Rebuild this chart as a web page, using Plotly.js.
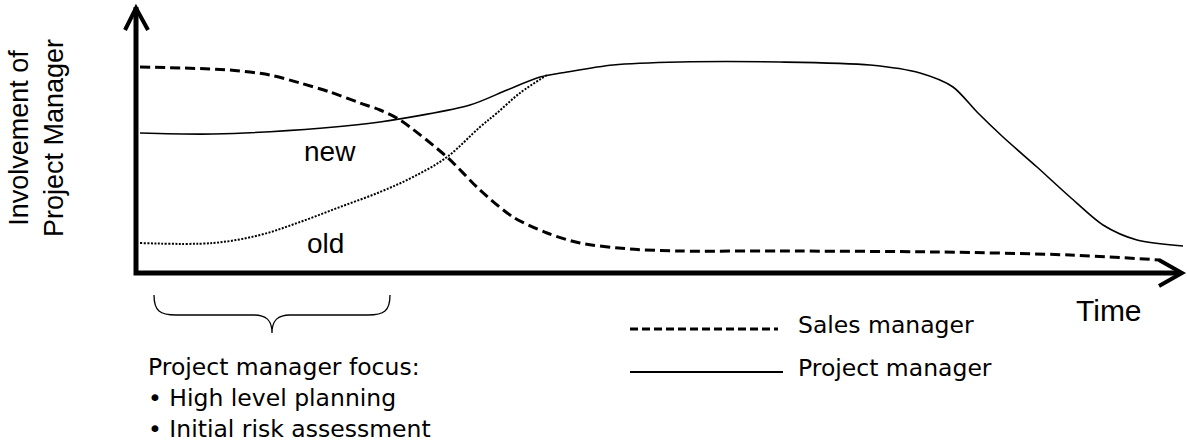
<!DOCTYPE html>
<html>
<head>
<meta charset="utf-8">
<script src="https://cdn.plot.ly/plotly-3.0.1.min.js"></script>
<style>
  html, body { margin: 0; padding: 0; background: #fff; }
  #graph { width: 1187px; height: 444px; }
</style>
</head>
<body>
<div id="graph"></div>
<script>
// time runs along x, involvement up y (units)
var salesTime = [4, 94, 134, 164, 194, 224, 244, 264, 311, 344, 377, 411, 444, 494, 544, 644, 801, 934, 1024];
var salesLevel = [206, 203, 198, 190, 181, 170, 163, 153, 116, 83, 56, 40, 30, 24, 22, 22, 21, 18, 13];

var pmTime = [4, 77, 187, 244, 334, 371, 404, 431, 477, 544, 644, 734, 784, 817, 841, 867, 901, 934, 967, 1001, 1047];
var pmLevel = [140, 139, 145, 151, 168, 183, 196, 201, 208, 211, 211, 208, 200, 186, 161, 136, 106, 76, 48, 33, 27];

var oldTime = [4, 77, 124, 164, 204, 244, 277, 311, 344, 361, 384, 411];
var oldLevel = [30, 30, 38, 51, 66, 81, 96, 116, 146, 160, 180, 198];

var yTitle = 'Involvement of<br>Project Manager';
var xTitle = 'Time';
var legendNames = ['Sales manager', 'Project manager'];
var focusLines = ['Project manager focus:', '\u2022 High level planning', '\u2022 Initial risk assessment'];

// page pixel -> paper coords (plot area is 136..1184 x 7..273)
function X(px) { return (px - 136) / 1048; }
function Y(py) { return (273 - py) / 266; }
function P(pts) {
  var s = '';
  for (var i = 0; i < pts.length; i++) {
    var p = pts[i];
    if (typeof p === 'string') { s += p + ' '; }
    else { s += X(p[0]) + ',' + Y(p[1]) + ' '; }
  }
  return s;
}

var sales = {
  x: salesTime, y: salesLevel, mode: 'lines', type: 'scatter',
  line: {color: '#000', width: 3, dash: '10px,5px', shape: 'spline', smoothing: 0.8},
  hoverinfo: 'skip'
};
var pm = {
  x: pmTime, y: pmLevel, mode: 'lines', type: 'scatter',
  line: {color: '#000', width: 1.6, shape: 'spline', smoothing: 0.8},
  hoverinfo: 'skip'
};
var pmOld = {
  x: oldTime, y: oldLevel, mode: 'lines', type: 'scatter',
  line: {color: '#000', width: 2, dash: '2px,1.5px', shape: 'spline', smoothing: 1},
  hoverinfo: 'skip'
};

var shapes = [
  // axes with open arrow heads
  {type: 'path', xref: 'paper', yref: 'paper', path: 'M' + P([[136, 7], 'L', [136, 273], 'L', [1181, 273]]),
   line: {color: '#000', width: 5}},
  {type: 'path', xref: 'paper', yref: 'paper', path: 'M' + P([[125, 30], 'L', [136, 8], 'L', [148, 30]]),
   line: {color: '#000', width: 4}},
  {type: 'path', xref: 'paper', yref: 'paper', path: 'M' + P([[1159, 260], 'L', [1182, 273], 'L', [1159, 286]]),
   line: {color: '#000', width: 4}},
  // brace under the early phase
  {type: 'path', xref: 'paper', yref: 'paper',
   path: 'M' + P([[154, 295], 'C', [154, 311], [160, 315], [176, 315], 'L', [254, 315],
                  'C', [266, 315], [272, 320], [272, 333], 'C', [272, 320], [278, 315], [290, 315],
                  'L', [368, 315], 'C', [384, 315], [390, 311], [390, 295]]),
   line: {color: '#000', width: 1.3}},
  // legend samples
  {type: 'line', xref: 'paper', yref: 'paper', x0: X(630), x1: X(778), y0: Y(329), y1: Y(329),
   line: {color: '#000', width: 3, dash: '8px,4px'}},
  {type: 'line', xref: 'paper', yref: 'paper', x0: X(630), x1: X(783), y0: Y(372), y1: Y(372),
   line: {color: '#000', width: 2}}
];

var arial = 'Liberation Sans, Arial, sans-serif';
var tahoma = 'DejaVu Sans, Verdana, sans-serif';

function note(text, px, py, opts) {
  var a = {text: text, xref: 'paper', yref: 'paper', x: X(px), y: Y(py), showarrow: false,
           xanchor: 'center', yanchor: 'middle', font: {family: arial, size: 27, color: '#000'}};
  for (var k in opts) a[k] = opts[k];
  return a;
}

var tFont = {family: tahoma, size: 23.5, color: '#000'};
var annotations = [
  note(yTitle, 37, 138, {textangle: -90}),
  note('new', 330, 151, {font: {family: arial, size: 28, color: '#000'}}),
  note('old', 325, 243, {font: {family: arial, size: 28, color: '#000'}}),
  note(xTitle, 1109, 310, {font: {family: arial, size: 30, color: '#000'}}),
  note(legendNames[0], 796, 325, {xanchor: 'left', font: tFont}),
  note(legendNames[1], 796, 368, {xanchor: 'left', font: tFont})
];
var focusY = [367, 398, 429];
for (var i = 0; i < focusLines.length; i++) {
  annotations.push(note(focusLines[i], 146, focusY[i], {xanchor: 'left', font: tFont}));
}

var layout = {
  width: 1187, height: 444,
  margin: {l: 136, r: 3, t: 7, b: 171},
  paper_bgcolor: '#fff', plot_bgcolor: '#fff',
  showlegend: false,
  xaxis: {range: [0, 1048], visible: false, fixedrange: true},
  yaxis: {range: [0, 266], visible: false, fixedrange: true},
  shapes: shapes,
  annotations: annotations
};

Plotly.newPlot('graph', [sales, pm, pmOld], layout, {staticPlot: true, displayModeBar: false});
</script>
</body>
</html>
